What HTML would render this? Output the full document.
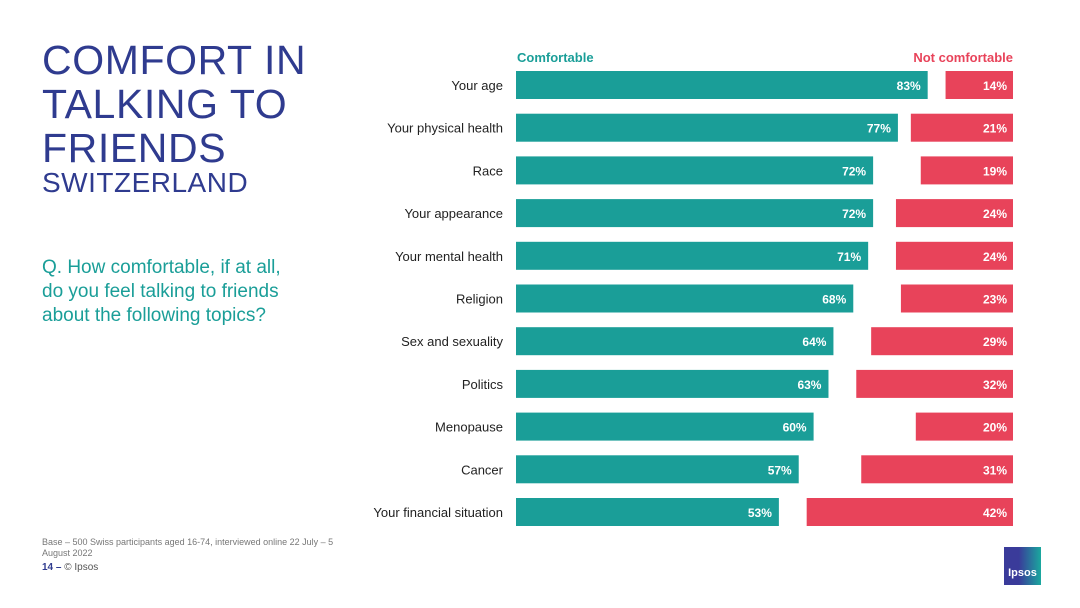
<!DOCTYPE html>
<html><head><meta charset="utf-8"><style>
body{margin:0;width:1080px;height:608px;background:#fff;font-family:"Liberation Sans",sans-serif;position:relative;overflow:hidden}
.t{position:absolute;left:42px;color:#2f3b8f}
</style></head><body>
<div class="t" style="top:38px;font-size:41px;line-height:44px;letter-spacing:0.6px">COMFORT IN<br>TALKING TO<br>FRIENDS</div>
<div class="t" style="top:167px;font-size:28px;letter-spacing:0.5px">SWITZERLAND</div>
<div class="t" style="top:256px;font-size:19px;line-height:24px;color:#1a9e98">Q. How comfortable, if at all,<br>do you feel talking to friends<br>about the following topics?</div>
<div class="t" style="top:537px;font-size:9px;line-height:11px;color:#777;width:300px">Base – 500 Swiss participants aged 16-74, interviewed online 22 July – 5 August 2022</div>
<div class="t" style="top:562px;font-size:10px;color:#2f3b8f"><b>14 –</b> <span style="color:#555">© Ipsos</span></div>
<div style="position:absolute;left:1004px;top:547px;width:37px;height:38px;background:linear-gradient(90deg,#3a3b9a 40%,#1aa89e);color:#fff;font-size:11px;font-weight:bold;text-align:center;line-height:52px">Ipsos</div>
<svg id="c" width="1080" height="608" style="position:absolute;left:0;top:0"></svg>
<script>
const categories=["Your age","Your physical health","Race","Your appearance","Your mental health","Religion","Sex and sexuality","Politics","Menopause","Cancer","Your financial situation"];
const comfortable=[83,77,72,72,71,68,64,63,60,57,53];
const notComfortable=[14,21,19,24,24,23,29,32,20,31,42];
const ns="http://www.w3.org/2000/svg",svg=document.getElementById('c');
const x0=516,xr=1013,k=4.96,y0=71,step=42.7,bh=28;
const xs=v=>v*k, yr=i=>y0+i*step;
function mk(t,a,txt){const e=document.createElementNS(ns,t);for(const n in a)e.setAttribute(n,a[n]);if(txt!=null)e.textContent=txt;svg.appendChild(e);return e;}
let e;
e=mk('text',{x:517,y:62,'font-size':13,'font-weight':'bold',fill:'#1a9e98'},'Comfortable');


e=mk('text',{x:1013,y:62,'font-size':13,'font-weight':'bold',fill:'#e8435a','text-anchor':'end'},'Not comfortable');


categories.forEach((c,i)=>{
 const y=yr(i);
 e=mk('text',{x:503,y:y+bh/2+5,'font-size':13,fill:'#222','text-anchor':'end'},c);
 
 
 const w=xs(comfortable[i]);
 e=mk('rect',{x:x0,y:y,width:w,height:bh,fill:'#1a9e98'});
 
 
 e=mk('text',{x:x0+w-7,y:y+bh/2+5,'font-size':12,'font-weight':'bold',fill:'#fff','text-anchor':'end'},comfortable[i]+'%');
 
 
 const w2=xs(notComfortable[i])-2;
 e=mk('rect',{x:xr-w2,y:y,width:w2,height:bh,fill:'#e8435a'});
 
 
 e=mk('text',{x:xr-6,y:y+bh/2+5,'font-size':12,'font-weight':'bold',fill:'#fff','text-anchor':'end'},notComfortable[i]+'%');
 
 
});
</script>
</body></html>
